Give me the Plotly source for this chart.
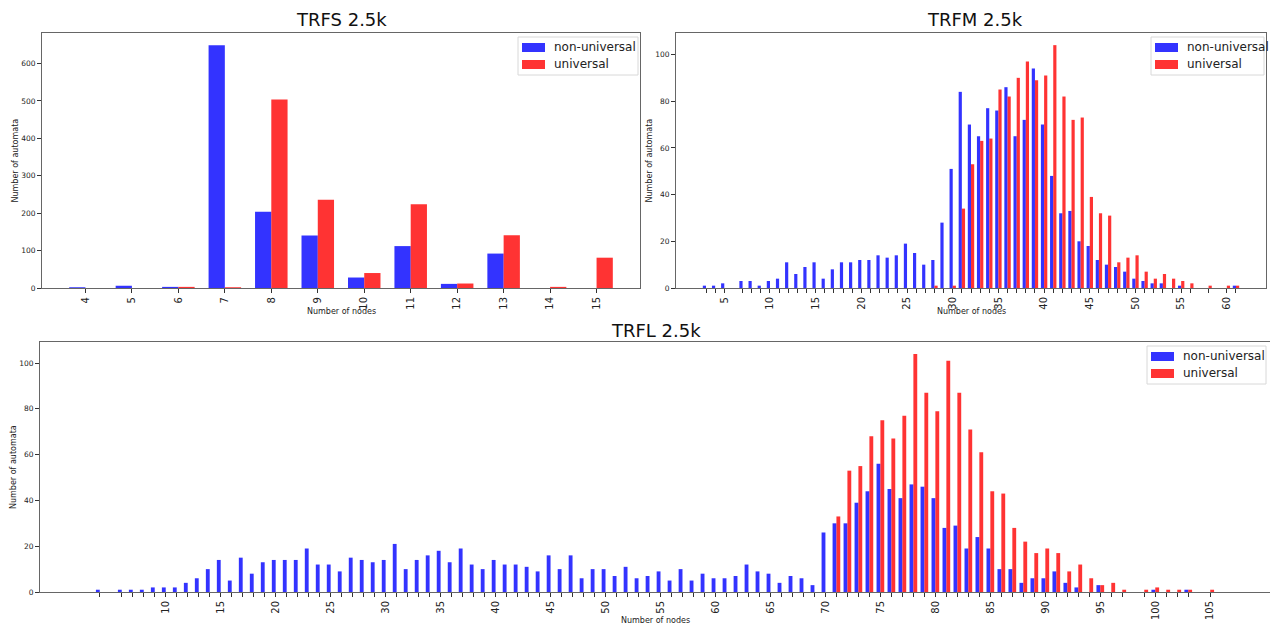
import plotly.graph_objects as go

# ---------------- data ----------------
# TRFS 2.5k
S_nu_x = [4, 5, 6, 7, 8, 9, 10, 11, 12, 13]
S_nu_y = [2, 6, 3, 649, 204, 140, 28, 112, 11, 92]
S_u_x = [6, 7, 8, 9, 10, 11, 12, 13, 14, 15]
S_u_y = [3, 2, 504, 236, 40, 224, 12, 141, 3, 81]

# TRFM 2.5k
M_nu_x = [3, 4, 5] + list(range(7, 54)) + [55, 61]
M_nu_y = [1, 1, 2,
          3, 3, 1, 3, 4, 11, 6, 9, 11, 4, 8, 11, 11, 12, 12, 14, 13, 14, 19, 15, 10, 12, 28, 51,
          84, 70, 65, 77, 76, 86, 65, 72, 94, 70, 48, 32, 33, 20, 18, 12, 10, 9, 7, 4, 3, 2, 2,
          1, 1]
M_u_x = [28] + list(range(30, 57)) + [58, 60, 61]
M_u_y = [1,
         1, 34, 53, 63, 64, 85, 82, 90, 97, 89, 91, 104, 82, 72, 73, 39, 32, 31, 11, 13, 14, 7, 4, 6, 4, 3, 2,
         1, 1, 1]

# TRFL 2.5k
L_nu_x = [4] + list(range(6, 94)) + [95, 100, 103]
L_nu_y = [1,
          1, 1, 1, 2, 2, 2, 4, 6, 10, 14, 5, 15, 8, 13, 14, 14, 14, 19, 12, 12, 9, 15, 14, 13, 14,
          21, 10, 14, 16, 18, 13, 19, 12, 10, 14, 12, 12, 11, 9, 16, 10, 16, 6, 10, 10, 7, 11, 6, 7,
          9, 5, 10, 5, 8, 6, 6, 7, 12, 9, 8, 4, 7, 6, 3, 26, 30, 30, 39, 44, 56, 45, 41, 47, 46,
          41, 28, 29, 19, 24, 19, 10, 10, 4, 6, 6, 9, 4, 2,
          3, 1, 1]
L_u_x = list(range(71, 98)) + [99, 100, 101, 102, 103, 105]
L_u_y = [33, 53, 55, 68, 75, 67, 77, 104, 87, 79, 101, 87, 71, 61, 44, 43, 28, 22, 17, 19, 17, 9, 12, 6, 3, 4, 1,
         1, 2, 1, 1, 1, 1]

titles = ["TRFS 2.5k", "TRFM 2.5k", "TRFL 2.5k"]
series_names = ["non-universal", "universal"]
x_title = "Number of nodes"
y_title = "Number of automata"

# ---------------- style ----------------
BLUE = "rgba(0,0,255,0.8)"
RED = "rgba(255,0,0,0.8)"
COLORS = [BLUE, RED]
W = 0.35
FONT = "DejaVu Sans"
OFF = 8  # default page body margin
W_PX, H_PX = 1278 - OFF, 627 - OFF


def px_x(p):
    return (p - OFF) / W_PX


def px_y(p):
    return 1 - (p - OFF) / H_PX


panels = [
    dict(nu=(S_nu_x, S_nu_y), u=(S_u_x, S_u_y), xd=(42, 640), yd=(33, 288), ydt=100,
         every=1, title=titles[0], tcx=341, ttop=8, xt_y=311, leg=(518, 638, 37)),
    dict(nu=(M_nu_x, M_nu_y), u=(M_u_x, M_u_y), xd=(676, 1266), yd=(33, 288), ydt=20,
         every=5, title=titles[1], tcx=975, ttop=8, xt_y=311, leg=(1151, 1264, 37)),
    dict(nu=(L_nu_x, L_nu_y), u=(L_u_x, L_u_y), xd=(40, 1270), yd=(342, 592), ydt=20,
         every=5, title=titles[2], tcx=656, ttop=319, xt_y=620, leg=(1147, 1266, 346)),
]

fig = go.Figure()
layout = dict(
    width=W_PX, height=H_PX,
    margin=dict(l=0, r=0, t=0, b=0, autoexpand=False),
    paper_bgcolor="white", plot_bgcolor="white",
    font=dict(family=FONT, color="#222"),
    showlegend=False,
    annotations=[],
    shapes=[],
)

for i, p in enumerate(panels):
    n = i + 1
    xa = "x" if n == 1 else f"x{n}"
    ya = "y" if n == 1 else f"y{n}"
    nux, nuy = p["nu"]
    ux, uy = p["u"]
    fig.add_trace(go.Bar(x=nux, y=nuy, width=W, offset=-W, name=series_names[0],
                         marker=dict(color=BLUE, line=dict(width=0)),
                         xaxis=xa, yaxis=ya))
    fig.add_trace(go.Bar(x=ux, y=uy, width=W, offset=0, name=series_names[1],
                         marker=dict(color=RED, line=dict(width=0)),
                         xaxis=xa, yaxis=ya))
    allx = sorted(set(nux) | set(ux))
    lo, hi = min(allx) - W, max(allx) + W
    pad = 0.05 * (hi - lo)
    ymax = max(max(nuy), max(uy)) * 1.05
    ticktext = [str(v) if v % p["every"] == 0 else "" for v in allx]
    xkey = "xaxis" if n == 1 else f"xaxis{n}"
    ykey = "yaxis" if n == 1 else f"yaxis{n}"
    layout[xkey] = dict(
        domain=[px_x(p["xd"][0]), px_x(p["xd"][1])], anchor=ya,
        range=[lo - pad, hi + pad], tickmode="array", tickvals=allx, ticktext=ticktext,
        tickangle=-90, tickfont=dict(size=10, color="#222"), ticks="outside", ticklen=4,
        tickcolor="#333", showline=True, mirror=True, linecolor="#666", linewidth=1,
        showgrid=False, zeroline=False, automargin=False,
    )
    layout[ykey] = dict(
        domain=[px_y(p["yd"][1]), px_y(p["yd"][0])], anchor=xa,
        range=[0, ymax], dtick=p["ydt"], tick0=0,
        tickfont=dict(size=7.5, color="#222"), ticks="outside", ticklen=4, tickcolor="#333",
        showline=True, mirror=True, linecolor="#666", linewidth=1,
        showgrid=False, zeroline=False, automargin=False,
    )
    # title and axis titles
    layout["annotations"].append(dict(
        text=p["title"], xref="paper", yref="paper",
        x=px_x(p["tcx"]), y=px_y(p["ttop"]), borderpad=0,
        xanchor="center", yanchor="top", showarrow=False,
        font=dict(size=18, family=FONT, color="#111"),
    ))
    cx = (p["xd"][0] + p["xd"][1]) / 2
    layout["annotations"].append(dict(
        text=x_title, xref="paper", yref="paper",
        x=px_x(cx), y=px_y(p["xt_y"]),
        xanchor="center", yanchor="middle", showarrow=False,
        font=dict(size=8, family=FONT, color="#222"),
    ))
    layout["annotations"].append(dict(
        text=y_title, xref="paper", yref="paper", textangle=-90,
        x=px_x(p["xd"][0] - 27), y=px_y((p["yd"][0] + p["yd"][1]) / 2),
        xanchor="center", yanchor="middle", showarrow=False,
        font=dict(size=8, family=FONT, color="#222"),
    ))
    # legend box
    lx0, lx1, ly0 = p["leg"]
    ly1 = ly0 + 38
    layout["shapes"].append(dict(
        type="rect", xref="paper", yref="paper",
        x0=px_x(lx0), x1=px_x(lx1), y0=px_y(ly1), y1=px_y(ly0),
        line=dict(color="#d8d8d8", width=1), fillcolor="rgba(255,255,255,0.8)", layer="above",
    ))
    for k, (nm, col) in enumerate(zip(series_names, COLORS)):
        cy = ly0 + 10 + 17 * k
        layout["shapes"].append(dict(
            type="rect", xref="paper", yref="paper",
            x0=px_x(lx0 + 4), x1=px_x(lx0 + 27), y0=px_y(cy + 5), y1=px_y(cy - 4),
            line=dict(width=0), fillcolor=col, layer="above",
        ))
        layout["annotations"].append(dict(
            text=nm, xref="paper", yref="paper",
            x=px_x(lx0 + 35), y=px_y(cy), borderpad=0,
            xanchor="left", yanchor="middle", showarrow=False,
            font=dict(size=12, family=FONT, color="#222"),
        ))

fig.update_layout(**layout)
fig.write_html("out.html")
